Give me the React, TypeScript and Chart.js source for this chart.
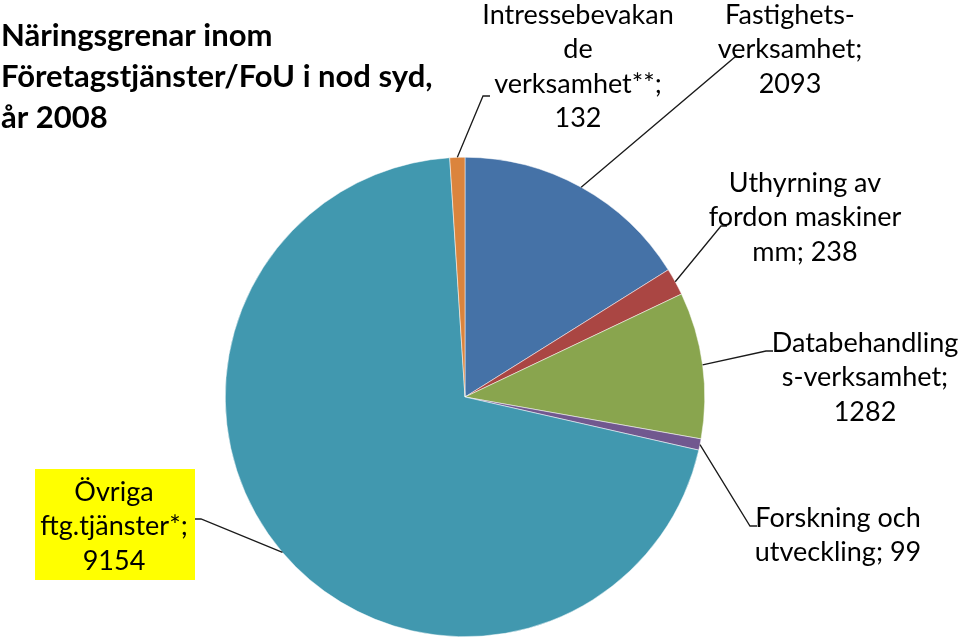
import React, { useEffect, useRef } from "react";
import { Chart, registerables } from "chart.js";

Chart.register(...registerables);

const categories = [
  "Fastighets-verksamhet",
  "Uthyrning av fordon maskiner mm",
  "Databehandlings-verksamhet",
  "Forskning och utveckling",
  "Övriga ftg.tjänster*",
  "Intressebevakande verksamhet**",
];
const values = [2093, 238, 1282, 99, 9154, 132];
const colors = ["#4572A7", "#AA4643", "#89A54E", "#71588F", "#4198AF", "#DB843D"];
const labelLines = [
  ["Fastighets-", "verksamhet;", "2093"],
  ["Uthyrning av", "fordon maskiner", "mm; 238"],
  ["Databehandling", "s-verksamhet;", "1282"],
  ["Forskning och", "utveckling; 99"],
  ["Övriga", "ftg.tjänster*;", "9154"],
  ["Intressebevakan", "de", "verksamhet**;", "132"],
];
const titleLines = ["Näringsgrenar inom", "Företagstjänster/FoU i nod syd,", "år 2008"];

// layout: label center x, first line y, leader end point, stub direction
const labelLayout = [
  { cx: 790, y0: 15, ex: 735, ey: 57, stub: 7 },
  { cx: 805, y0: 183, ex: 721, ey: 226, stub: 6 },
  { cx: 865, y0: 343, ex: 766, ey: 351, stub: 7 },
  { cx: 838, y0: 518, ex: 750, ey: 526, stub: 7 },
  { cx: 114, y0: 492, ex: 201, ey: 519, stub: -6 },
  { cx: 578, y0: 15, ex: 483, ey: 96, stub: 7 },
];

const FONT = "Lato, 'Open Sans', sans-serif";

const labelPlugin = {
  id: "pieLabels",
  afterDatasetsDraw(chart: any) {
    const ctx = chart.ctx as CanvasRenderingContext2D;
    const meta = chart.getDatasetMeta(0);
    ctx.save();
    // title
    ctx.fillStyle = "#000";
    ctx.font = `bold 31px ${FONT}`;
    ctx.textAlign = "left";
    ctx.textBaseline = "middle";
    titleLines.forEach((t, i) => ctx.fillText(t, 1, 36 + i * 41));

    // yellow box for Övriga
    ctx.fillStyle = "#FFFF00";
    ctx.fillRect(35, 469, 160, 111);

    meta.data.forEach((arc: any, i: number) => {
      const p = arc.getProps(["x", "y", "startAngle", "endAngle", "outerRadius"], true);
      const mid = (p.startAngle + p.endAngle) / 2;
      const sx = p.x + Math.cos(mid) * p.outerRadius;
      const sy = p.y + Math.sin(mid) * p.outerRadius;
      const L = labelLayout[i];
      ctx.strokeStyle = "#1a1a1a";
      ctx.lineWidth = 1.3;
      ctx.beginPath();
      ctx.moveTo(sx, sy);
      ctx.lineTo(L.ex, L.ey);
      ctx.lineTo(L.ex + L.stub, L.ey);
      ctx.stroke();

      ctx.fillStyle = "#000";
      ctx.font = `27px ${FONT}`;
      ctx.textAlign = "center";
      ctx.textBaseline = "middle";
      labelLines[i].forEach((t, j) => ctx.fillText(t, L.cx, L.y0 + j * 34.5));
    });
    ctx.restore();
  },
};

export default function App() {
  const ref = useRef<HTMLCanvasElement | null>(null);
  useEffect(() => {
    if (!ref.current) return;
    const chart = new Chart(ref.current, {
      type: "pie",
      data: {
        labels: categories,
        datasets: [
          {
            data: values,
            backgroundColor: colors,
            borderColor: "#ffffff",
            borderWidth: 0.5,
          },
        ],
      },
      options: {
        responsive: false,
        animation: false,
        layout: { padding: { left: 225, right: 255, top: 157, bottom: 5 } },
        plugins: {
          legend: { display: false },
          tooltip: { enabled: false },
          title: { display: false },
        },
      },
      plugins: [labelPlugin],
    });
    return () => chart.destroy();
  }, []);
  return (
    <div style={{ position: "absolute", left: 0, top: 0, width: 960, height: 642, background: "#fff" }}>
      <canvas ref={ref} width={960} height={642} style={{ display: "block" }} />
    </div>
  );
}
